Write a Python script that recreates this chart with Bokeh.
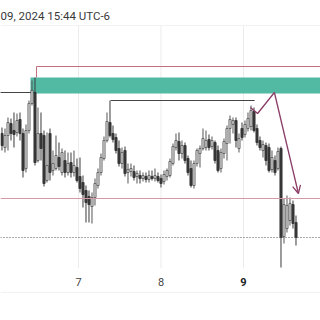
import numpy as np
from bokeh.plotting import figure
from bokeh.models import Range1d, Span, Arrow, OpenHead, ColumnDataSource
from bokeh.core.properties import value
from bokeh.embed import file_html
from bokeh.resources import INLINE

# ---- data (price units) ----
opens  = [167,153,165,177,170,168,181,167,132,170,197,208,140,167,165,120,167,130,132,143,
          128,140,128,138,128,133,124,118,110,104,94,103,115,128,142,160,178,167,163,152,
          137,150,128,129,129,124,125,122,124,121,124,122,124,122,119,124,125,137,153,159,
          147,155,142,132,115,137,147,152,153,161,154,158,150,132,147,157,172,176,180,152,
          172,166,172,174,189,172,160,150,155,153,131,140,132,152,64,72,80,96,78]
highs  = [173,172,183,182,188,187,188,172,176,200,220,223,193,188,170,168,172,150,165,158,
          152,150,148,148,150,142,143,125,115,110,108,122,132,147,164,188,200,175,167,160,
          153,154,137,137,135,130,130,128,128,130,130,132,128,126,130,132,142,157,167,168,
          160,158,145,140,140,152,155,172,170,166,164,160,155,152,162,175,185,183,183,167,
          178,180,188,195,193,176,164,160,158,157,150,145,153,154,102,105,103,100,85]
lows   = [150,148,150,160,153,164,160,123,128,167,195,135,138,140,114,118,120,125,130,130,
          125,123,125,123,124,118,108,93,78,78,77,95,112,125,140,158,163,158,147,134,
          132,124,117,124,120,117,117,119,118,118,120,119,118,113,116,120,123,135,150,140,
          142,137,125,113,112,134,133,150,150,150,151,137,128,128,142,140,157,167,153,148,
          160,163,169,170,168,155,150,143,135,128,128,125,130,33,57,68,75,72,55]
closes = [155,165,178,167,166,180,167,130,170,197,210,138,167,152,117,135,128,137,145,134,
          148,128,137,128,135,120,112,106,98,96,103,117,128,143,160,179,165,161,150,137,
          148,127,131,132,123,127,122,125,121,125,122,125,120,117,126,130,139,154,160,147,
          155,140,128,115,137,150,152,162,160,153,160,140,130,148,159,172,181,180,160,162,
          163,176,182,190,170,158,153,156,140,130,143,128,149,63,96,95,97,77,63]

day_ticks = [25.5, 53.0, 80.5]
day_labels = ["7", "8", "9"]
current_day = "9"

pane_p = [32, 275]             # price pane extent
label_p = 19                   # level of the time-scale labels
scale_bottom_p = 8             # bottom edge of the time scale

zone_x = [9.5, 107.0]          # supply zone (teal)
zone_p = [207, 223]
top_line_x = [11.5, 11.5, 107.0]
top_line_p = [223, 234, 234]
left_level_x = [-1.0, 10.5]
left_level_p = [208, 208]
mid_level_x = [36.2, 84.2]
mid_level_p = [200, 200]
support_p = 102
last_price_p = 63
path_x = [82.8, 85.2, 90.8, 98.8]
path_p = [193, 187, 208, 107]

title_text = "09, 2024 15:44 UTC-6"

# ---- figure ----
p = figure(width=320, height=320, output_backend="svg", toolbar_location=None,
           x_range=Range1d(-0.5, 106.1667), y_range=Range1d(-20, 275),
           min_border_left=0, min_border_right=0, min_border_top=25, min_border_bottom=0)
p.background_fill_color = "white"
p.border_fill_color = "white"
p.outline_line_color = None
p.axis.visible = False
p.grid.grid_line_color = None

p.title.text = title_text
p.title.text_font = "Roboto"
p.title.text_font_size = "11.5px"
p.title.text_font_style = "normal"
p.title.text_color = "#3a3a3a"
p.title.offset = 0
p.title.standoff = 6

# vertical day grid lines inside the price pane
p.segment(x0=day_ticks, y0=[pane_p[0]] * len(day_ticks), x1=day_ticks, y1=[pane_p[1]] * len(day_ticks),
          line_color="#ececec", line_width=1)
p.add_layout(Span(location=pane_p[1], dimension="width", line_color="#e6e6e6", line_width=1))
p.add_layout(Span(location=scale_bottom_p, dimension="width", line_color="#f1f1f1", line_width=1))

# day labels of the time scale
for t, lab in zip(day_ticks, day_labels):
    bold = lab == current_day
    p.text(x=[t], y=[label_p], text=[lab], text_align="center", text_baseline="middle",
           text_font=value("Roboto"), text_font_size="11px",
           text_font_style="bold" if bold else "normal",
           text_color="#222222" if bold else "#444444")

# teal zone
p.quad(left=[zone_x[0]], right=[zone_x[1]], bottom=[zone_p[0]], top=[zone_p[1]],
       fill_color="#52b9a2", line_color=None)

# horizontal levels
p.line(top_line_x, top_line_p, line_color="#c0707c", line_width=1)
p.line(left_level_x, left_level_p, line_color="#444444", line_width=1)
p.line(mid_level_x, mid_level_p, line_color="#444444", line_width=1)
p.add_layout(Span(location=support_p, dimension="width", line_color="#d49aa2", line_width=1))
p.add_layout(Span(location=last_price_p, dimension="width", line_color="#555555",
                  line_width=1, line_dash="1 2"))

# candles
o = np.array(opens, float); c = np.array(closes, float)
idx = np.arange(len(opens))
up = c >= o
src_up = ColumnDataSource(dict(x=idx[up], top=np.maximum(o, c)[up], bottom=np.minimum(o, c)[up],
                               h=np.array(highs)[up], l=np.array(lows)[up]))
src_dn = ColumnDataSource(dict(x=idx[~up], top=np.maximum(o, c)[~up], bottom=np.minimum(o, c)[~up],
                               h=np.array(highs)[~up], l=np.array(lows)[~up]))
p.segment(x0="x", y0="h", x1="x", y1="l", source=src_up, line_color="#555555", line_width=1)
p.segment(x0="x", y0="h", x1="x", y1="l", source=src_dn, line_color="#3a3a3a", line_width=1)
p.vbar(x="x", top="top", bottom="bottom", width=0.72, source=src_up,
       fill_color="#dcdcdc", line_color="#555555", line_width=0.8)
p.vbar(x="x", top="top", bottom="bottom", width=0.72, source=src_dn,
       fill_color="#3a3a3a", line_color="#2e2e2e", line_width=0.8)

# projection path
p.line(path_x[:3], path_p[:3], line_color="#8a3d67", line_width=1.3)
p.add_layout(Arrow(x_start=path_x[2], y_start=path_p[2], x_end=path_x[3], y_end=path_p[3],
                   line_color="#8a3d67", line_width=1.3,
                   end=OpenHead(size=8, line_color="#8a3d67", line_width=1.3)))

open("out.html", "w").write(file_html(p, INLINE))
